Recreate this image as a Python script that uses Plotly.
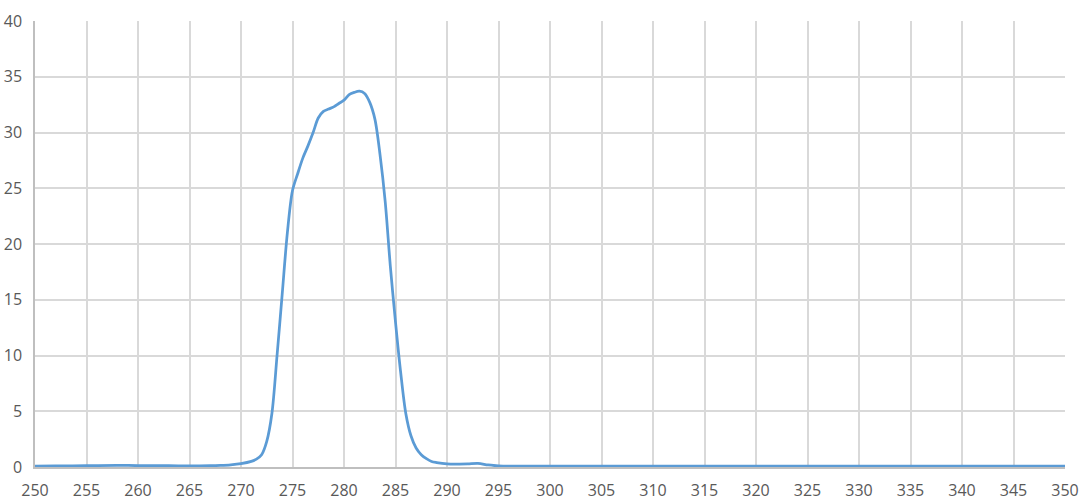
import plotly.graph_objects as go

wavelength = [250, 252, 255, 258, 260, 263, 265, 267, 268, 269, 270, 271, 271.5, 272, 272.5,
              273, 273.5, 274, 274.5, 275, 275.5, 276, 276.5, 277, 277.5, 278, 278.5, 279,
              279.5, 280, 280.5, 281, 281.5, 282, 282.5, 283, 283.5, 284, 284.5, 285, 285.5,
              286, 286.5, 287, 287.5, 288, 288.5, 289, 290, 291, 292, 293, 294, 295, 300,
              310, 320, 330, 340, 350]
intensity = [0.08, 0.1, 0.12, 0.15, 0.12, 0.12, 0.1, 0.12, 0.15, 0.2, 0.3, 0.5, 0.7, 1.1, 2.3,
             4.8, 10.0, 15.5, 21.0, 24.8, 26.3, 27.7, 28.8, 30.0, 31.3, 31.9, 32.1, 32.3,
             32.6, 32.9, 33.4, 33.6, 33.7, 33.5, 32.7, 31.2, 28.0, 23.8, 18.0, 13.0, 8.5,
             4.8, 2.8, 1.7, 1.1, 0.75, 0.5, 0.4, 0.28, 0.26, 0.27, 0.32, 0.18, 0.1, 0.08,
             0.08, 0.08, 0.08, 0.08, 0.08]

x_ticks = list(range(250, 351, 5))
y_ticks = list(range(0, 41, 5))

fig = go.Figure()
fig.add_trace(go.Scatter(
    x=wavelength, y=intensity, mode="lines",
    line=dict(color="#5b9bd5", width=2.75, shape="spline", smoothing=0.9),
    hoverinfo="skip", showlegend=False, cliponaxis=False,
))

fig.update_layout(
    width=1084, height=501,
    margin=dict(l=35, r=19, t=21, b=34),
    paper_bgcolor="white", plot_bgcolor="white",
    font=dict(family="Open Sans", size=16, color="#595959"),
    xaxis=dict(range=[250, 350], tickvals=x_ticks, ticktext=[str(v) for v in x_ticks],
               showgrid=True, gridcolor="#d9d9d9", gridwidth=1.5, zeroline=False,
               showline=True, linecolor="#bfbfbf", linewidth=1.5, ticks="",
               automargin=False, ticklabelstandoff=8, fixedrange=True),
    yaxis=dict(range=[0, 40], tickvals=y_ticks, ticktext=[str(v) for v in y_ticks],
               showgrid=True, gridcolor="#d9d9d9", gridwidth=1.5, zeroline=False,
               showline=True, linecolor="#bfbfbf", linewidth=1.5, ticks="",
               automargin=False, ticklabelstandoff=8, fixedrange=True),
)

fig.write_html("out.html", post_script="document.body.style.margin='0';",
               config={"displayModeBar": False})
